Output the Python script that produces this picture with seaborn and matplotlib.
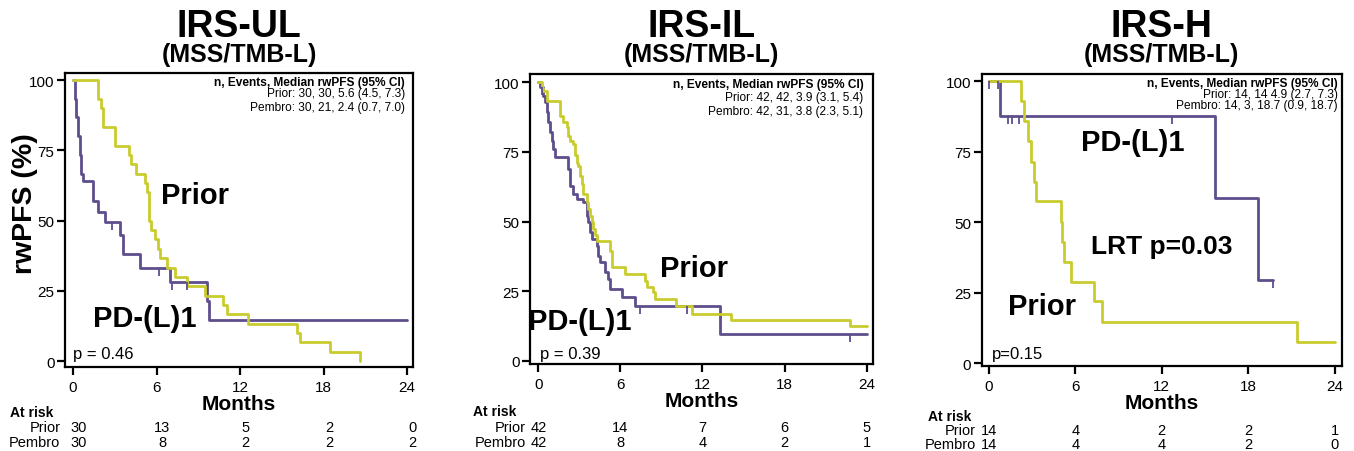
import numpy as np
import matplotlib
matplotlib.use("Agg")
import matplotlib.pyplot as plt
import seaborn as sns

# ---------------- data (months, % progression free) ----------------
months_ticks = [0, 6, 12, 18, 24]

ul_prior_t = [0, 1.8, 2.04, 2.16, 3.0, 4.03, 4.2, 4.56, 5.16, 5.33, 5.47, 5.64, 5.88, 6.12, 6.24,
              6.72, 7.32, 8.16, 9.48, 10.8, 11.04, 12.6, 16.1, 16.3, 18.5, 20.6]
ul_prior_s = [100, 93.3, 90, 83.3, 76.7, 73.3, 70, 66.7, 63.3, 60, 50, 46.7, 43.3, 40, 36.7,
              33.3, 30, 26.7, 23.3, 20, 16.7, 13.3, 10, 6.7, 3.3, 0]
ul_pembro_t = [0, 0.12, 0.24, 0.36, 0.48, 0.6, 0.7, 1.44, 1.8, 2.3, 3.36, 3.6, 4.8, 6.96, 9.6, 9.8, 24]
ul_pembro_s = [100, 93.3, 86.7, 80, 73.3, 66.7, 64, 57, 53, 49.5, 45, 38, 33, 28.2, 21.5, 14.5, 14.5]
ul_pembro_cens = [2.8, 6.2, 7.1, 8.2]

il_prior_t = [0, 0.24, 0.37, 0.61, 1.58, 1.83, 2.07, 2.19, 2.31, 2.56, 2.68, 2.8, 2.92, 3.05, 3.17,
              3.29, 3.53, 3.65, 3.78, 3.9, 4.02, 4.14, 4.31, 5.24, 5.36, 6.33, 7.8, 7.92, 8.41, 8.53,
              10.1, 11.2, 14.1, 22.8, 24]
il_prior_s = [100, 98, 97, 93.4, 88, 85.6, 83.8, 80.8, 79, 78, 74, 71, 70, 66.5, 63.5,
              60, 57, 54.5, 52, 50, 47.3, 45, 43, 39.5, 33.5, 31, 28.7, 26.3, 24.5, 22,
              19.8, 16.8, 14.7, 12.3, 12.3]
il_pembro_t = [0, 0.12, 0.37, 0.49, 0.61, 0.73, 0.85, 0.97, 1.1, 1.22, 2.19, 2.31, 2.56, 2.8, 3.29,
               3.53, 3.65, 3.78, 3.9, 4.26, 4.39, 4.51, 4.87, 5.12, 5.24, 6.09, 7.07, 13.28, 24]
il_pembro_s = [100, 98.2, 95.2, 92.8, 89.2, 85.6, 82, 79, 76, 73, 68.9, 62.9, 59.9, 58, 56.9,
               52, 49.7, 46.1, 43.7, 41.3, 37.7, 35.3, 31.7, 29.3, 25.7, 22.8, 19.5, 9.6, 9.6]
il_pembro_cens = [0.25, 7.4, 10.85, 22.8]

h_prior_t = [0, 2.2, 2.46, 2.69, 2.92, 3.09, 3.27, 5.01, 5.1, 5.24, 5.68, 7.31, 7.84, 21.4, 24]
h_prior_s = [100, 92.8, 85.9, 78.8, 71.2, 64.1, 57.3, 49.9, 42.8, 35.9, 28.9, 21.9, 14.4, 7.6, 7.6]
h_pembro_t = [0, 0.77, 15.7, 18.7, 19.7]
h_pembro_s = [100, 87.7, 58.7, 29.4, 29.4]
h_pembro_cens = [0.0, 0.65, 1.35, 1.6, 2.05, 12.7, 19.7]

ul_risk_prior = [30, 13, 5, 2, 0]
ul_risk_pembro = [30, 8, 2, 2, 2]
il_risk_prior = [42, 14, 7, 6, 5]
il_risk_pembro = [42, 8, 4, 2, 1]
h_risk_prior = [14, 4, 2, 2, 1]
h_risk_pembro = [14, 4, 4, 2, 0]

titles = ["IRS-UL", "IRS-IL", "IRS-H"]
subtitle = "(MSS/TMB-L)"
legend_head = "n, Events, Median rwPFS (95% CI)"
legend_prior = ["Prior: 30, 30, 5.6 (4.5, 7.3)", "Prior: 42, 42, 3.9 (3.1, 5.4)", "Prior: 14, 14 4.9 (2.7, 7.3)"]
legend_pembro = ["Pembro: 30, 21, 2.4 (0.7, 7.0)", "Pembro: 42, 31, 3.8 (2.3, 5.1)",
                 "Pembro: 14, 3, 18.7 (0.9, 18.7)"]
p_texts = ["p = 0.46", "p = 0.39", "p=0.15"]

PRIOR_COL = "#C9CC2E"
PEMBRO_COL = "#5E4E8C"

# ---------------- style ----------------
sns.set_style("ticks")
plt.rcParams["font.family"] = ["Liberation Sans", "DejaVu Sans"]
plt.rcParams["axes.linewidth"] = 1.6
plt.rcParams["axes.edgecolor"] = "black"
plt.rcParams["text.color"] = "black"
plt.rcParams["axes.labelcolor"] = "black"
plt.rcParams["xtick.color"] = "black"
plt.rcParams["ytick.color"] = "black"

fig = plt.figure(figsize=(13.54, 4.52), dpi=100)

W, H = 1354, 452
# axes boxes in pixels: left, top, right, bottom
boxes = [(65, 74, 413, 368), (530, 75, 873, 365), (981.7, 75, 1341.7, 366.7)]
xlims = [(-0.575, 24.43), (-0.61, 24.47), (-0.51, 24.5)]
ylims = [(-2.1, 102.5), (-1.2, 103.0), (-0.95, 102.5)]

panels = [
    dict(prior=(ul_prior_t, ul_prior_s), pembro=(ul_pembro_t, ul_pembro_s), cens=ul_pembro_cens,
         risk=(ul_risk_prior, ul_risk_pembro), risk_dx=0.4,
         labels=[("Prior", 8.76, 59.1, 21), ("PD-(L)1", 5.17, 15.3, 21)], p_xy=(0.0, 2.6),
         leg_xy=(0.977, [0.970, 0.931, 0.883]), risk_y=[-0.153, -0.204, -0.255], atrisk_x=-4.5),
    dict(prior=(il_prior_t, il_prior_s), pembro=(il_pembro_t, il_pembro_s), cens=il_pembro_cens,
         risk=(il_risk_prior, il_risk_pembro), risk_dx=0.0,
         labels=[("Prior", 11.35, 33.3, 21), ("PD-(L)1", 3.05, 14.3, 21)], p_xy=(0.12, 2.6),
         leg_xy=(0.972, [0.966, 0.920, 0.873]), risk_y=[-0.162, -0.217, -0.269], atrisk_x=-4.77),
    dict(prior=(h_prior_t, h_prior_s), pembro=(h_pembro_t, h_pembro_s), cens=h_pembro_cens,
         risk=(h_risk_prior, h_risk_pembro), risk_dx=0.0,
         labels=[("PD-(L)1", 10.0, 78.4, 21), ("LRT p=0.03", 12.0, 41.5, 19), ("Prior", 3.7, 20.2, 21)],
         p_xy=(0.2, 3.2),
         leg_xy=(0.990, [0.968, 0.931, 0.895]), risk_y=[-0.172, -0.220, -0.268], atrisk_x=-4.24),
]


def step_at(t, s, x):
    idx = np.searchsorted(t, x, side="right") - 1
    return np.asarray(s)[idx]


for i, (pan, box) in enumerate(zip(panels, boxes)):
    l, t, r, b = box
    ax = fig.add_axes([l / W, 1 - b / H, (r - l) / W, (b - t) / H])

    for (tt, ss), col in [(pan["pembro"], PEMBRO_COL), (pan["prior"], PRIOR_COL)]:
        sns.lineplot(x=tt, y=ss, ax=ax, color=col, linewidth=2.0, drawstyle="steps-post",
                     estimator=None, sort=False)
    ct = np.array(pan["cens"])
    cy = step_at(pan["pembro"][0], pan["pembro"][1], ct)
    ax.plot(ct, cy, linestyle="none", marker=[(0, 0), (0, -1)], markersize=11,
            markeredgecolor=PEMBRO_COL, markeredgewidth=1.3)

    ax.set_xlim(*xlims[i])
    ax.set_ylim(*ylims[i])
    ax.set_xticks(months_ticks)
    ax.set_yticks([0, 25, 50, 75, 100])
    ax.tick_params(axis="both", direction="out", length=5.5, width=1.6, labelsize=11, pad=2)
    ax.tick_params(axis="x", pad=4)
    for sp in ax.spines.values():
        sp.set_visible(True)
        sp.set_linewidth(1.6)

    ax.set_xlabel("Months", fontsize=15, fontweight="bold")
    ax.xaxis.set_label_coords(0.5, -0.092)
    ax.set_ylabel("")

    # big in-plot labels
    for txt, x, y, fs in pan["labels"]:
        ax.text(x, y, txt, fontsize=fs, fontweight="bold", ha="center", va="center")
    ax.text(pan["p_xy"][0], pan["p_xy"][1], p_texts[i], fontsize=12, ha="left", va="center")

    # legend block
    lx, lys = pan["leg_xy"]
    ax.text(lx, lys[0], legend_head, transform=ax.transAxes, fontsize=8.6, fontweight="bold",
            ha="right", va="center")
    ax.text(lx, lys[1], legend_prior[i], transform=ax.transAxes, fontsize=8.6, ha="right", va="center")
    ax.text(lx, lys[2], legend_pembro[i], transform=ax.transAxes, fontsize=8.6, ha="right", va="center")

    # risk table
    tr = ax.get_xaxis_transform()
    ry = pan["risk_y"]
    ax.text(pan["atrisk_x"], ry[0], "At risk", transform=tr, fontsize=10, fontweight="bold",
            ha="left", va="center", clip_on=False)
    for row, (name, vals) in enumerate(zip(["Prior", "Pembro"], pan["risk"])):
        ax.text(-0.9, ry[row + 1], name, transform=tr, fontsize=10.5, ha="right", va="center")
        for xt, v in zip(months_ticks, vals):
            ax.text(xt + pan["risk_dx"], ry[row + 1], str(v), transform=tr, fontsize=10.5,
                    ha="center", va="center")

    # titles
    cx = (l + r) / 2 / W
    fig.text(cx, 1 - 36.7 / H, titles[i], fontsize=27, fontweight="bold", ha="center", va="baseline")
    fig.text(cx, 1 - 62 / H, subtitle, fontsize=18, fontweight="bold", ha="center", va="baseline")

fig.text(25 / W, 1 - 204 / H, "rwPFS (%)", fontsize=20.5, fontweight="bold", rotation=90,
         ha="center", va="center")

fig.savefig("out.png", dpi=100)
